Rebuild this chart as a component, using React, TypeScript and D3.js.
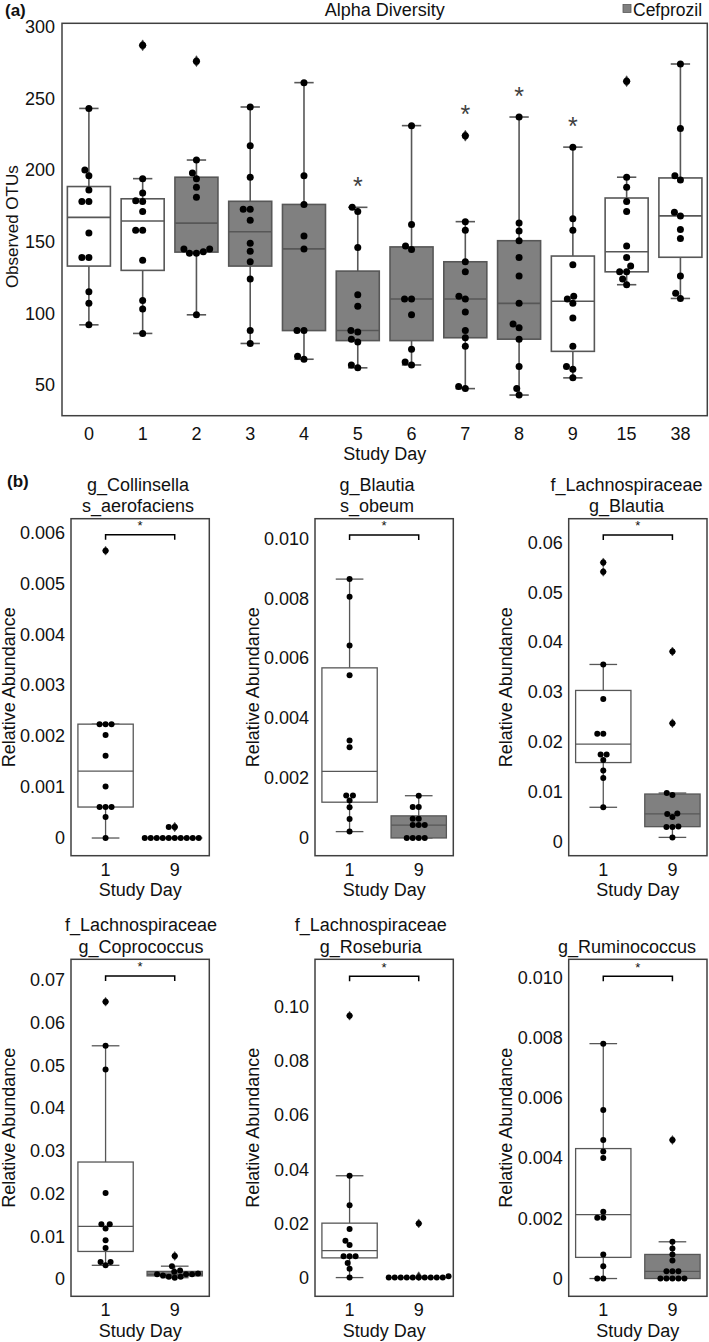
import React from "react";
import * as d3 from "d3";

const FONT = "'Liberation Sans', Arial, Helvetica, sans-serif";
const GRAY = "#808080";
const EDGE = "#575757";
const FRAME = "#404040";

// ---------- Panel (a): Alpha diversity ----------
const days = ["0", "1", "2", "3", "4", "5", "6", "7", "8", "9", "15", "38"];
const cefprozilDays = ["2", "3", "4", "5", "6", "7", "8"];
const sigDays = ["5", "7", "8", "9"];
const otuTicks = [50, 100, 150, 200, 250, 300];
const otuDomain = [28.6, 302.4];

const otuDay0 = [243, 200, 196, 186, 178, 178, 156, 139, 139, 115, 107, 92];
const otuDay1 = [287, 194, 184, 178.6, 178, 171, 158, 158, 137, 109, 103, 86];
const otuDay2 = [276, 207, 198, 194, 188, 181, 145, 143, 142, 142, 145, 99];
const otuDay3 = [244, 217, 195, 172.6, 172.6, 165, 149, 143.3, 136, 124, 88, 79];
const otuDay4 = [261, 196, 176, 154, 145, 88, 88, 70, 68];
const otuDay5 = [174, 171, 146, 113, 105, 88, 87, 82, 80, 64, 62];
const otuDay6 = [231, 162, 147, 144.5, 110, 110, 99, 75, 66, 64];
const otuDay7 = [224, 164, 158, 136, 129, 112, 110, 101, 88, 83, 77, 49, 47.5];
const otuDay8 = [237, 163, 157.4, 150.7, 139, 126, 107, 92.5, 90, 82, 63, 47.6, 43];
const otuDay9 = [216, 166, 158, 134, 112, 110, 107, 96.7, 77, 63, 61, 55];
const otuDay15 = [262, 195, 188, 178, 171, 147, 139, 133, 129, 129, 124, 120];
const otuDay38 = [274, 229, 196, 193, 170.5, 168, 158.6, 152.3, 126, 114, 110.4];
const otuByDay = [otuDay0, otuDay1, otuDay2, otuDay3, otuDay4, otuDay5, otuDay6, otuDay7, otuDay8, otuDay9, otuDay15, otuDay38];

// ---------- Panel (b): taxa, day 1 vs day 9 ----------
const compareDays = ["1", "9"];
const taxaTitles = [
  ["g_Collinsella", "s_aerofaciens"],
  ["g_Blautia", "s_obeum"],
  ["f_Lachnospiraceae", "g_Blautia"],
  ["f_Lachnospiraceae", "g_Coprococcus"],
  ["f_Lachnospiraceae", "g_Roseburia"],
  ["g_Ruminococcus"],
];
const collinsellaD1 = [0.00564, 0.002235, 0.002235, 0.002235, 0.00202, 0.001614, 0.001013, 0.000608, 0.000608, 0.000608, 0.000412, 0];
const collinsellaD9 = [0.000216, 0.000216, 0, 0, 0, 0, 0, 0, 0, 0, 0, 0];
const obeumD1 = [0.00864, 0.00805, 0.00642, 0.00543, 0.003256, 0.00303, 0.001416, 0.001416, 0.00125, 0.001026, 0.000635, 0.000212];
const obeumD9 = [0.00141, 0.00103, 0.00103, 0.00064, 0.00064, 0.00043, 0.00043, 0.00043, 0, 0, 0, 0];
const blautiaD1 = [0.05597, 0.05409, 0.0355, 0.02855, 0.02158, 0.02158, 0.01743, 0.01743, 0.01635, 0.01421, 0.01273, 0.00684];
const blautiaD9 = [0.0381, 0.0237, 0.0097, 0.0093, 0.0056, 0.0055, 0.0049, 0.003, 0.0029, 0.0029, 0.0008];
const coprococcusD1 = [0.06492, 0.0546, 0.04906, 0.02016, 0.01281, 0.01281, 0.0118, 0.00906, 0.00727, 0.00398, 0.00398, 0.0032];
const coprococcusD9 = [0.0054, 0.003, 0.002, 0.0017, 0.0013, 0.0011, 0.0011, 0.0011, 0.0008, 0.0005, 0.0005, 0.0003];
const roseburiaD1 = [0.0967, 0.0376, 0.0267, 0.0179, 0.0136, 0.012, 0.0079, 0.0079, 0.0079, 0.0054, 0.0033, 0];
const roseburiaD9 = [0.02, 0.0005, 0, 0, 0, 0, 0, 0, 0, 0, 0, 0];
const ruminococcusD1 = [0.0078, 0.0056, 0.0046, 0.00422, 0.004, 0.00222, 0.00202, 0.00202, 0.0008, 0.00041, 0, 0];
const ruminococcusD9 = [0.0046, 0.00122, 0.001, 0.0008, 0.0006, 0.00024, 0.00024, 0.00024, 0, 0, 0, 0, 0];
const taxaDay1 = [collinsellaD1, obeumD1, blautiaD1, coprococcusD1, roseburiaD1, ruminococcusD1];
const taxaDay9 = [collinsellaD9, obeumD9, blautiaD9, coprococcusD9, roseburiaD9, ruminococcusD9];
const taxaDomains = [
  [-0.000347, 0.006267],
  [-0.000592, 0.010656],
  [-0.002876, 0.06475],
  [-0.004054, 0.07485],
  [-0.00691, 0.11752],
  [-0.00059, 0.0106],
];
const taxaTickValues = [
  [0, 0.001, 0.002, 0.003, 0.004, 0.005, 0.006],
  [0, 0.002, 0.004, 0.006, 0.008, 0.01],
  [0, 0.01, 0.02, 0.03, 0.04, 0.05, 0.06],
  [0, 0.01, 0.02, 0.03, 0.04, 0.05, 0.06, 0.07],
  [0, 0.02, 0.04, 0.06, 0.08, 0.1],
  [0, 0.002, 0.004, 0.006, 0.008, 0.01],
];
const taxaTickLabels = [
  ["0", "0.001", "0.002", "0.003", "0.004", "0.005", "0.006"],
  ["0", "0.002", "0.004", "0.006", "0.008", "0.010"],
  ["0", "0.01", "0.02", "0.03", "0.04", "0.05", "0.06"],
  ["0", "0.01", "0.02", "0.03", "0.04", "0.05", "0.06", "0.07"],
  ["0", "0.02", "0.04", "0.06", "0.08", "0.10"],
  ["0", "0.002", "0.004", "0.006", "0.008", "0.010"],
];
const bracketLevels = [0.00595, 0.01011, 0.06146, 0.07094, 0.1113, 0.01004];

// ---------- helpers ----------
function boxStats(vals: number[]) {
  const s = [...vals].sort((a, b) => a - b);
  const q1 = d3.quantileSorted(s, 0.25) as number;
  const med = d3.quantileSorted(s, 0.5) as number;
  const q3 = d3.quantileSorted(s, 0.75) as number;
  const iqr = q3 - q1;
  const lo = q1 - 1.5 * iqr;
  const hi = q3 + 1.5 * iqr;
  const inside = s.filter((v) => v >= lo && v <= hi);
  return {
    q1, med, q3,
    wLo: d3.min(inside) as number,
    wHi: d3.max(inside) as number,
    fliers: s.filter((v) => v < lo || v > hi),
  };
}

function swarmOffsets(ys: number[], r: number): number[] {
  const order = ys.map((_, i) => i).sort((a, b) => ys[b] - ys[a]);
  const xs = new Array(ys.length).fill(0);
  const placed: { x: number; y: number }[] = [];
  const d = 2 * r;
  for (const i of order) {
    const y = ys[i];
    const nb = placed.filter((p) => Math.abs(p.y - y) < d);
    const cands = [0];
    nb.forEach((p) => {
      const dx = Math.sqrt(d * d - (p.y - y) ** 2);
      cands.push(p.x - dx, p.x + dx);
    });
    const sorted = cands.map((c, k) => ({ c, k })).sort((a, b) => Math.abs(a.c) - Math.abs(b.c) || a.k - b.k);
    let chosen = 0;
    for (const { c } of sorted) {
      if (nb.every((p) => (p.x - c) ** 2 + (p.y - y) ** 2 >= d * d - 1e-6)) {
        chosen = c;
        break;
      }
    }
    xs[i] = chosen;
    placed.push({ x: chosen, y });
  }
  return xs;
}

function diamond(cx: number, cy: number, w: number, h: number) {
  return `M${cx},${cy - h / 2}L${cx + w / 2},${cy}L${cx},${cy + h / 2}L${cx - w / 2},${cy}Z`;
}

type BoxProps = {
  vals: number[];
  cx: number;
  bw: number;
  y: d3.ScaleLinear<number, number>;
  fill: string;
  r: number;
  capRatio: number;
  sw: number;
  dw: number;
  dh: number;
};

function BoxSwarm({ vals, cx, bw, y, fill, r, capRatio, sw, dw, dh }: BoxProps) {
  const st = boxStats(vals);
  const capW = bw * capRatio;
  const ys = vals.map((v) => y(v));
  const offs = swarmOffsets(ys, r);
  return (
    <g>
      <line x1={cx} x2={cx} y1={y(st.q1)} y2={y(st.wLo)} stroke={EDGE} strokeWidth={sw} />
      <line x1={cx} x2={cx} y1={y(st.q3)} y2={y(st.wHi)} stroke={EDGE} strokeWidth={sw} />
      <line x1={cx - capW / 2} x2={cx + capW / 2} y1={y(st.wLo)} y2={y(st.wLo)} stroke={EDGE} strokeWidth={sw} />
      <line x1={cx - capW / 2} x2={cx + capW / 2} y1={y(st.wHi)} y2={y(st.wHi)} stroke={EDGE} strokeWidth={sw} />
      <rect x={cx - bw / 2} y={y(st.q3)} width={bw} height={Math.max(0, y(st.q1) - y(st.q3))} fill={fill} stroke={EDGE} strokeWidth={sw} />
      <line x1={cx - bw / 2} x2={cx + bw / 2} y1={y(st.med)} y2={y(st.med)} stroke={EDGE} strokeWidth={sw} />
      {st.fliers.map((v, i) => (
        <path key={"f" + i} d={diamond(cx, y(v), dw, dh)} fill="#222" stroke={EDGE} strokeWidth={0.6} />
      ))}
      {vals.map((v, i) => (
        <circle key={"p" + i} cx={cx + offs[i]} cy={ys[i]} r={r} fill="#000" />
      ))}
    </g>
  );
}

// ---------- Panel (a) ----------
function AlphaPanel() {
  const L = 62, T = 23.3, R = 707.3, B = 415.7;
  const x = d3.scaleBand<string>().domain(days).range([L, R]).padding(0);
  const y = d3.scaleLinear().domain(otuDomain).range([B, T]);
  const bw = x.bandwidth() * 0.8;
  const cxOf = (d: string) => (x(d) as number) + x.bandwidth() / 2;
  return (
    <g>
      <text x={5} y={16} fontSize={17} fontWeight="bold">(a)</text>
      <text x={(L + R) / 2} y={16} fontSize={18} textAnchor="middle">Alpha Diversity</text>
      <rect x={623} y={4.5} width={8} height={8} fill={GRAY} stroke={EDGE} strokeWidth={0.8} />
      <text x={633} y={15.5} fontSize={17.5}>Cefprozil</text>
      {days.map((d, i) => (
        <BoxSwarm
          key={d}
          vals={otuByDay[i]}
          cx={cxOf(d)}
          bw={bw}
          y={y}
          fill={cefprozilDays.includes(d) ? GRAY : "#fff"}
          r={3.5}
          capRatio={0.45}
          sw={1.6}
          dw={7}
          dh={11}
        />
      ))}
      {sigDays.map((d) => {
        const i = days.indexOf(d);
        const top = y(d3.max(otuByDay[i]) as number);
        return (
          <text key={d} x={cxOf(d)} y={top - 26.5 + 14} fontSize={25} textAnchor="middle" fill="#404040">*</text>
        );
      })}
      <rect x={L} y={T} width={R - L} height={B - T} fill="none" stroke={FRAME} strokeWidth={1.5} />
      {otuTicks.map((t) => (
        <text key={t} x={L - 7} y={y(t)} dy="0.35em" fontSize={18} textAnchor="end">{t}</text>
      ))}
      {days.map((d) => (
        <text key={d} x={cxOf(d)} y={B + 24.5} fontSize={18} textAnchor="middle">{d}</text>
      ))}
      <text x={(L + R) / 2} y={B + 44} fontSize={18} textAnchor="middle">Study Day</text>
      <text transform={`translate(17.5,226.7) rotate(-90)`} fontSize={17} textAnchor="middle">Observed OTUs</text>
    </g>
  );
}

// ---------- Panel (b) ----------
const colLefts = [71, 315, 568.7];
const rowTops = [518.7, 959.3];
const titleCenters = [138, 377, 626.5, 141, 370.7, 627];
const PW = 138.3;
const PH = 337;

function TaxonPanel({ k }: { k: number }) {
  const L = colLefts[k % 3];
  const T = rowTops[Math.floor(k / 3)];
  const R = L + PW;
  const B = T + PH;
  const x = d3.scaleBand<string>().domain(compareDays).range([L, R]).padding(0);
  const y = d3.scaleLinear().domain(taxaDomains[k]).range([B, T]);
  const bw = x.bandwidth() * 0.8;
  const cxOf = (d: string) => (x(d) as number) + x.bandwidth() / 2;
  const lines = taxaTitles[k];
  const by = y(bracketLevels[k]);
  const x1 = cxOf("1"), x2 = cxOf("9");
  return (
    <g>
      {lines.map((s, i) => (
        <text key={i} x={titleCenters[k]} y={T - 6.7 - (lines.length - 1 - i) * 21.5} fontSize={18} textAnchor="middle">{s}</text>
      ))}
      <BoxSwarm vals={taxaDay1[k]} cx={x1} bw={bw} y={y} fill="#fff" r={3} capRatio={0.5} sw={1.3} dw={6} dh={9} />
      <BoxSwarm vals={taxaDay9[k]} cx={x2} bw={bw} y={y} fill={GRAY} r={3} capRatio={0.5} sw={1.3} dw={6} dh={9} />
      <path d={`M${x1},${by + 5}L${x1},${by}L${x2},${by}L${x2},${by + 5}`} fill="none" stroke="#000" strokeWidth={1.5} />
      <text x={(x1 + x2) / 2} y={by - 4.6} fontSize={13} textAnchor="middle">*</text>
      <rect x={L} y={T} width={PW} height={PH} fill="none" stroke={FRAME} strokeWidth={1.5} />
      {taxaTickValues[k].map((t, i) => (
        <text key={i} x={L - 6} y={y(t)} dy="0.35em" fontSize={18} textAnchor="end">{taxaTickLabels[k][i]}</text>
      ))}
      {compareDays.map((d) => (
        <text key={d} x={cxOf(d)} y={B + 20} fontSize={18} textAnchor="middle">{d}</text>
      ))}
      <text x={(L + R) / 2} y={B + 40.5} fontSize={18} textAnchor="middle">Study Day</text>
      <text transform={`translate(${L - 56.5},${(T + B) / 2}) rotate(-90)`} fontSize={18} textAnchor="middle">Relative Abundance</text>
    </g>
  );
}

export default function App() {
  return (
    <svg
      width={709}
      height={1342}
      style={{ position: "absolute", left: 0, top: 0, background: "#fff" }}
      fontFamily={FONT}
      fill="#111"
    >
      <rect x={0} y={0} width={709} height={1342} fill="#fff" />
      <AlphaPanel />
      <text x={7} y={487} fontSize={17} fontWeight="bold">(b)</text>
      {taxaTitles.map((_, k) => (
        <TaxonPanel key={k} k={k} />
      ))}
    </svg>
  );
}
